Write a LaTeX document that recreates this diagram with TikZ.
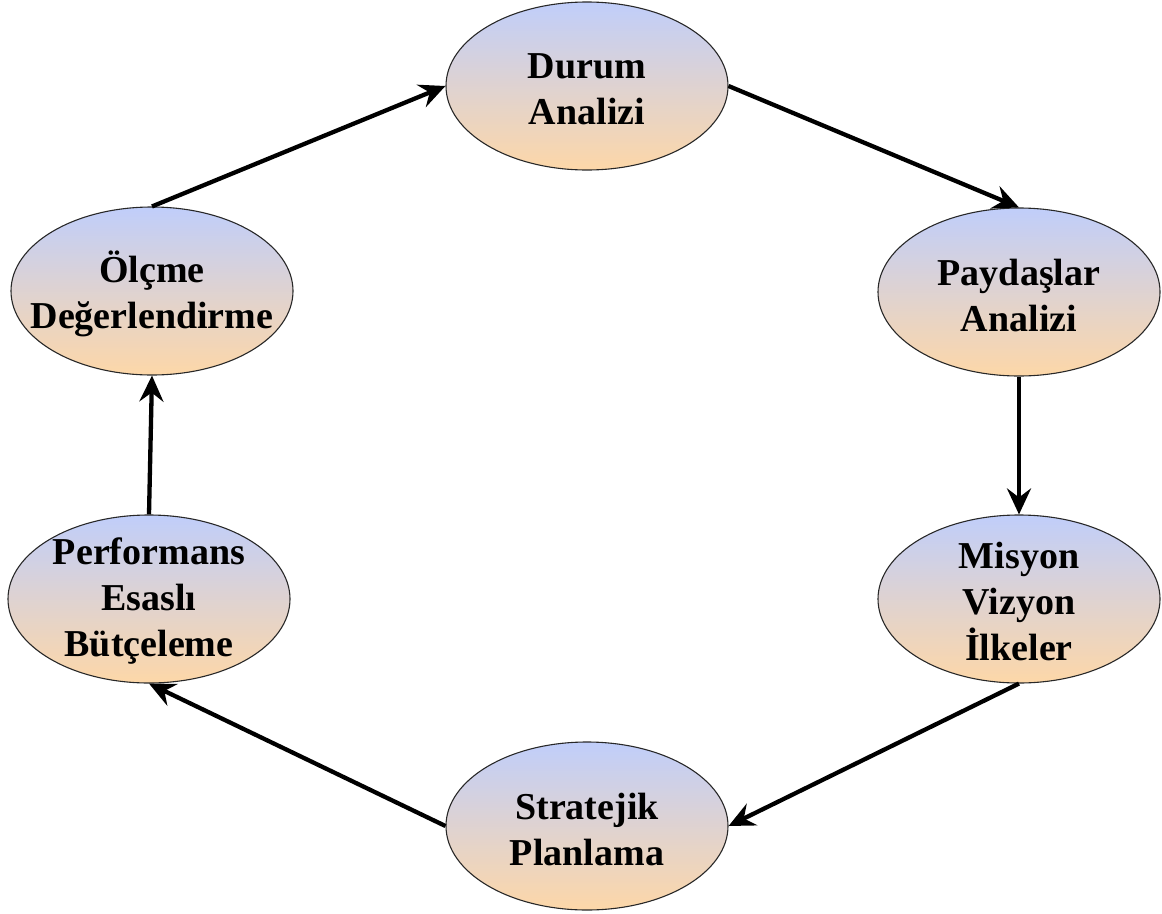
\documentclass[tikz,border=0pt]{standalone}
\usepackage{fontspec}
\setmainfont{Liberation Serif}
\usetikzlibrary{shapes.geometric,arrows.meta}
\definecolor{topblue}{RGB}{192,206,250}
\definecolor{midpink}{RGB}{234,212,228}
\definecolor{botpeach}{RGB}{253,215,168}
\definecolor{rimgray}{RGB}{40,40,40}
\tikzset{
  stage/.style={ellipse, draw=rimgray, line width=1.1pt, top color=topblue, middle color=midpink, bottom color=botpeach,
    minimum width=282pt, minimum height=168pt, inner sep=0pt},
  stagetext/.style={align=center, font=\fontsize{38}{46}\selectfont\bfseries, text=black, inner sep=0pt},
  flow/.style={line width=4.3pt, -{Stealth[length=26pt,width=24pt,inset=9pt]}}
}
\begin{document}
\begin{tikzpicture}[x=1pt,y=-1pt]
\useasboundingbox (0,0) rectangle (1162,913);
\node[stage] (durum) at (587,86) {};
\node[stage] (paydas) at (1019,292) {};
\node[stage] (misyon) at (1019,599) {};
\node[stage] (strat) at (587,826) {};
\node[stage] (perf) at (149,599) {};
\node[stage] (olcme) at (152,291) {};
\node[stagetext] (durumT) at ([yshift=-3pt]durum.center) {Durum\\Analizi};
\node[stagetext] (paydasT) at ([yshift=-3pt]paydas.center) {Paydaşlar\\Analizi};
\node[stagetext] (misyonT) at ([yshift=-2pt]misyon.center) {Misyon\\Vizyon\\İlkeler};
\node[stagetext] (stratT) at ([yshift=-3pt]strat.center) {Stratejik\\Planlama};
\node[stagetext] (perfT) at ([yshift=-2pt]perf.center) {Performans\\Esaslı\\Bütçeleme};
\node[stagetext] (olcmeT) at ([yshift=-3pt]olcme.center) {Ölçme\\Değerlendirme};
\draw[flow] (olcme.north) -- (durum.west);
\draw[flow] (durum.east) -- (paydas.north);
\draw[flow] (paydas.south) -- (misyon.north);
\draw[flow] (misyon.south) -- (strat.east);
\draw[flow] (strat.west) -- (perf.south);
\draw[flow] (perf.north) -- (olcme.south);
\end{tikzpicture}
\end{document}
